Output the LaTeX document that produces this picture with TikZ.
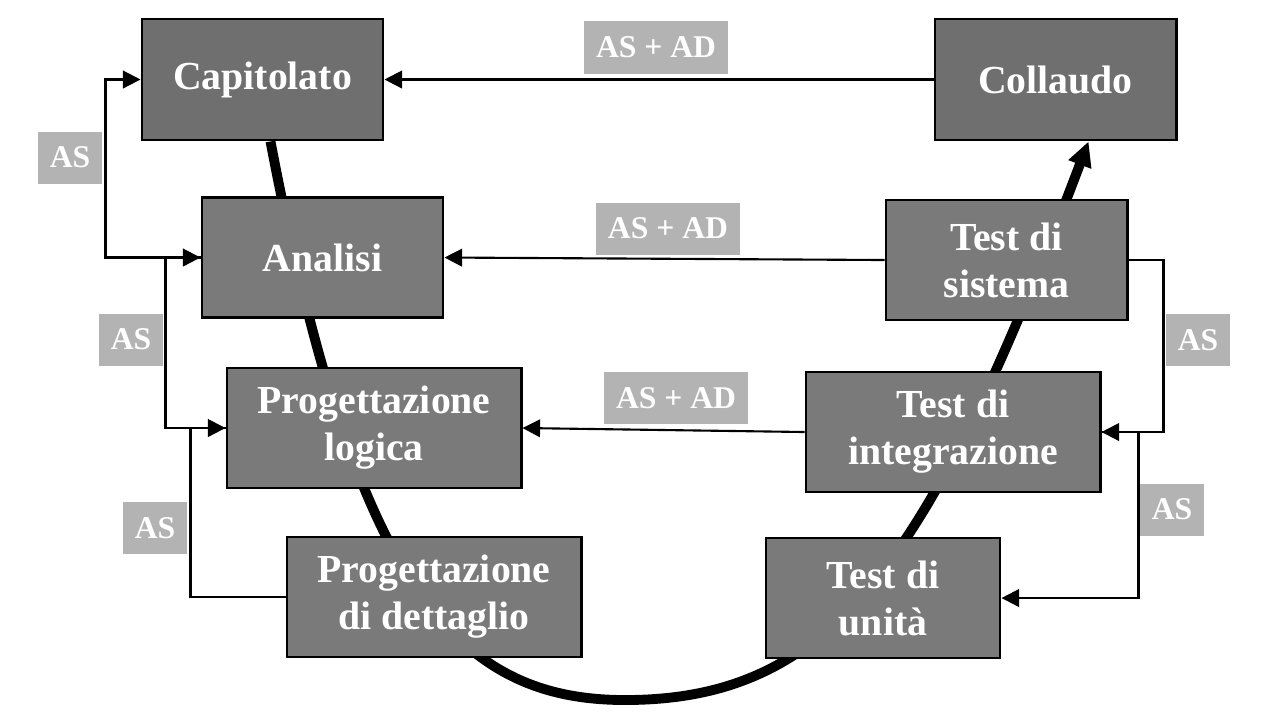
\documentclass[tikz,border=0pt]{standalone}
\usepackage{fontspec}
\setmainfont{Liberation Serif}
\usetikzlibrary{arrows.meta, backgrounds}
\definecolor{phasedark}{HTML}{6F6F6F}
\definecolor{phasegray}{HTML}{7A7A7A}
\definecolor{taggray}{HTML}{B3B3B3}
\tikzstyle{phase} = [rectangle, draw=black, line width=0.8pt, fill=phasegray, text=white, font=\fontsize{11.3}{13.4}\selectfont\bfseries, align=center, minimum width=2.94cm, minimum height=1.2cm]
\tikzstyle{phaseend} = [phase, fill=phasedark, minimum width=2.41cm, minimum height=1.21cm]
\tikzstyle{tag} = [rectangle, fill=taggray, text=white, font=\fontsize{9}{10}\selectfont\bfseries, minimum height=0.52cm, inner xsep=0.12cm]
\tikzstyle{arrow} = [line width=0.6pt, -{Triangle[length=5pt, width=5pt]}]
\tikzstyle{vline} = [line width=2.8pt, -{Triangle[length=7pt, width=6.5pt]}]

\begin{document}
\begin{tikzpicture}[x=0.01cm, y=-0.01cm]
	\useasboundingbox (0,0) rectangle (1280,717);
	% phases
	\node (cap) [phaseend] at (262.5,79.5) {Capitolato};
	\node (col) [phaseend] at (1055.5,79.5) {Collaudo};
	\node (ana) [phase, minimum width=2.41cm] at (322.5,257.5) {Analisi};
	\node (sis) [phase, minimum width=2.41cm] at (1006.5,260) {Test di\\sistema};
	\node (log) [phase] at (374,428) {Progettazione\\logica};
	\node (int) [phase] at (953,432) {Test di\\integrazione};
	\node (det) [phase] at (434,597) {Progettazione\\di dettaglio};
	\node (uni) [phase, minimum width=2.34cm] at (883,598) {Test di\\unità};
	\coordinate (bot) at (625,700);
	% labels
	\node (t1) [tag] at (656,47.5) {AS + AD};
	\node (t2) [tag] at (668,228.5) {AS + AD};
	\node (t3) [tag] at (676,398) {AS + AD};
	\node (a1) [tag] at (70,157.5) {AS};
	\node (a2) [tag] at (131,339.5) {AS};
	\node (a3) [tag] at (155,528) {AS};
	\node (a4) [tag] at (1198,340) {AS};
	\node (a5) [tag] at (1172,509.5) {AS};
	% V curve
	\begin{scope}[on background layer]
	\draw [vline] ([xshift=0.08cm]cap.south) .. controls (355,585) and (455,700) .. (bot)
		.. controls (835,700) and (930,560) .. ([xshift=0.33cm]col.south);
	\end{scope}
	% feedback
	\draw [arrow] (col.west) -- (cap.east);
	\draw [arrow] (sis.west) -- (ana.east);
	\draw [arrow] (int.west) -- (log.east);
	\draw [arrow] (ana.west) -- ++(-95,0) |- (cap.west);
	\draw [arrow] (log.west) -- ++(-60,0) |- (ana.west);
	\draw [arrow] (det.west) -- ++(-95,0) |- (log.west);
	\draw [arrow] (sis.east) -- ++(35,0) |- (int.east);
	\draw [arrow] (int.east) -- ++(37,0) |- (uni.east);
\end{tikzpicture}
\end{document}
